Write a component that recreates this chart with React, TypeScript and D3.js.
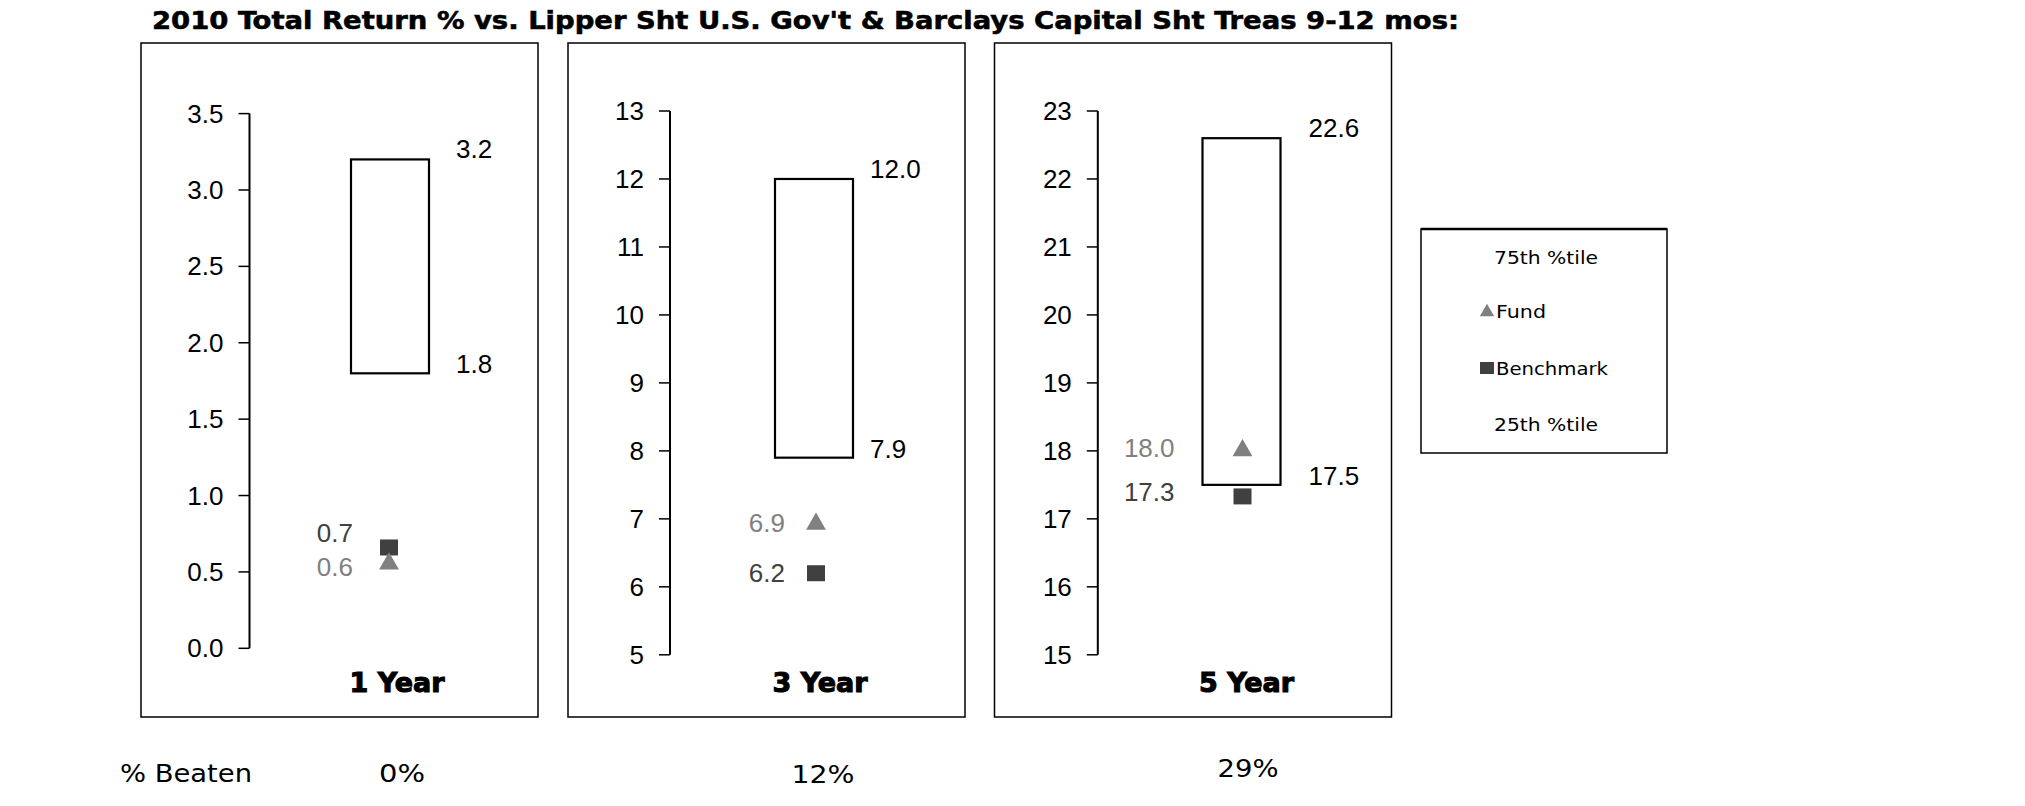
import React from "react";
import * as d3 from "d3";

// ---------- data ----------
const periods = ["1 Year", "3 Year", "5 Year"];
const pct75 = [3.2, 12.0, 22.6];
const pct25 = [1.8, 7.9, 17.5];
const fundValues = [0.56, 6.94, 18.02];
const benchmarkValues = [0.66, 6.2, 17.33];
const axisMin = [0, 5, 15];
const axisMax = [3.5, 13, 23];
const ticks1 = [0, 0.5, 1.0, 1.5, 2.0, 2.5, 3.0, 3.5];
const ticks3 = [5, 6, 7, 8, 9, 10, 11, 12, 13];
const ticks5 = [15, 16, 17, 18, 19, 20, 21, 22, 23];
const tickSets = [ticks1, ticks3, ticks5];
const tickFormats = [".1f", "d", "d"];
const pctBeaten = ["0%", "12%", "29%"];
const legendItems = ["75th %tile", "Fund", "Benchmark", "25th %tile"];
const title =
  "2010 Total Return % vs. Lipper Sht U.S. Gov't & Barclays Capital Sht Treas 9-12 mos:";

// ---------- layout ----------
const W = 2025;
const H = 806;
const frameX = [141, 568, 994.5];
const frameW = 397;
const frameTop = 43;
const frameBottom = 717;
const axisDx = [108.5, 102, 103.3];
const plotTop = [113.6, 111, 111];
const plotBottom = [648.3, 654.8, 654.8];
const boxDx = [210, 207, 208];
const boxW = 78;
const markerDx = 248;
const valLabelGap = [27, 17, 28];
const markerLabelDx = [-36, -31, -68];
const benchLabelDy = [-14, 0, -4];
const fundLabelDy = [4, 0, -2];
const periodDx = [256, 252, 252];

const FUND_COLOR = "#808080";
const BENCH_COLOR = "#404040";
const ARIAL = "'Liberation Sans', Arial, sans-serif";
const VERDANA = "'DejaVu Sans', Verdana, sans-serif";
const TAHOMA = "'DejaVu Sans Condensed', 'DejaVu Sans', Tahoma, sans-serif";

const triPath = d3.symbol(d3.symbolTriangle, 170)() as string;

function Panel({ i }: { i: number }) {
  const x0 = frameX[i];
  const y = d3
    .scaleLinear()
    .domain([axisMin[i], axisMax[i]])
    .range([plotBottom[i], plotTop[i]]);
  const fmt = d3.format(tickFormats[i]);
  const f1 = d3.format(".1f");
  const ax = x0 + axisDx[i];
  const bx = x0 + boxDx[i];
  const mx = x0 + markerDx;
  return (
    <g>
      <rect
        x={x0}
        y={frameTop}
        width={frameW}
        height={frameBottom - frameTop}
        fill="white"
        stroke="#000"
        strokeWidth={1.5}
      />
      {/* axis */}
      <line x1={ax} x2={ax} y1={y(axisMin[i])} y2={y(axisMax[i])} stroke="#000" strokeWidth={2} />
      {tickSets[i].map((t) => (
        <g key={t}>
          <line x1={ax - 11} x2={ax} y1={y(t)} y2={y(t)} stroke="#000" strokeWidth={1.5} />
          <text
            x={ax - 26}
            y={y(t)}
            textAnchor="end"
            dominantBaseline="central"
            fontFamily={ARIAL}
            fontSize={26}
            fill="#000"
          >
            {fmt(t)}
          </text>
        </g>
      ))}
      {/* percentile box */}
      <rect
        x={bx}
        y={y(pct75[i])}
        width={boxW}
        height={y(pct25[i]) - y(pct75[i])}
        fill="white"
        stroke="#000"
        strokeWidth={2.2}
      />
      <text
        x={bx + boxW + valLabelGap[i]}
        y={y(pct75[i]) - 10}
        dominantBaseline="central"
        fontFamily={ARIAL}
        fontSize={26}
        fill="#000"
      >
        {f1(pct75[i])}
      </text>
      <text
        x={bx + boxW + valLabelGap[i]}
        y={y(pct25[i]) - 9}
        dominantBaseline="central"
        fontFamily={ARIAL}
        fontSize={26}
        fill="#000"
      >
        {f1(pct25[i])}
      </text>
      {/* markers */}
      <rect
        x={mx - 9}
        y={y(benchmarkValues[i]) - 8}
        width={18}
        height={16}
        fill={BENCH_COLOR}
      />
      <path d={triPath} transform={`translate(${mx},${y(fundValues[i]) + 1})`} fill={FUND_COLOR} />
      <text
        x={mx + markerLabelDx[i]}
        y={y(benchmarkValues[i]) + benchLabelDy[i]}
        textAnchor="end"
        dominantBaseline="central"
        fontFamily={ARIAL}
        fontSize={26}
        fill={BENCH_COLOR}
      >
        {f1(benchmarkValues[i])}
      </text>
      <text
        x={mx + markerLabelDx[i]}
        y={y(fundValues[i]) + fundLabelDy[i]}
        textAnchor="end"
        dominantBaseline="central"
        fontFamily={ARIAL}
        fontSize={26}
        fill={FUND_COLOR}
      >
        {f1(fundValues[i])}
      </text>
      {/* period label */}
      <text
        x={x0 + periodDx[i]}
        y={682}
        textAnchor="middle"
        dominantBaseline="central"
        fontFamily={VERDANA}
        fontWeight="bold"
        fontSize={27}
        stroke="#000"
        strokeWidth={1.1}
        textLength={95}
        lengthAdjust="spacingAndGlyphs"
        fill="#000"
      >
        {periods[i]}
      </text>
    </g>
  );
}

export default function App() {
  const legX = 1421;
  const legY = 229;
  const legW = 246;
  const legH = 224;
  const legRowY = [257, 311, 368, 424];
  const legFont = 18;
  return (
    <svg width={W} height={H} style={{ position: "absolute", left: 0, top: 0, background: "#fff" }}>
      <rect x={0} y={0} width={W} height={H} fill="#fff" />
      <text
        x={152}
        y={29}
        fontFamily={TAHOMA}
        fontWeight="bold"
        fontSize={24}
        stroke="#000"
        strokeWidth={0.5}
        textLength={1307}
        lengthAdjust="spacingAndGlyphs"
        fill="#000"
      >
        {title}
      </text>
      {periods.map((_, i) => (
        <Panel key={i} i={i} />
      ))}
      {/* legend */}
      <rect x={legX} y={legY} width={legW} height={legH} fill="white" stroke="#000" strokeWidth={1.5} />
      <line x1={legX} x2={legX + legW} y1={legY} y2={legY} stroke="#000" strokeWidth={2.5} />
      <text x={1546} y={legRowY[0]} textAnchor="middle" dominantBaseline="central" fontFamily={VERDANA} fontSize={legFont} textLength={104} lengthAdjust="spacingAndGlyphs" fill="#000">
        {legendItems[0]}
      </text>
      <path d={d3.symbol(d3.symbolTriangle, 90)() as string} transform={`translate(1487,${legRowY[1] + 1})`} fill={FUND_COLOR} />
      <text x={1496} y={legRowY[1]} dominantBaseline="central" fontFamily={VERDANA} fontSize={legFont} textLength={50} lengthAdjust="spacingAndGlyphs" fill="#000">
        {legendItems[1]}
      </text>
      <rect x={1480} y={legRowY[2] - 6} width={14} height={12} fill={BENCH_COLOR} />
      <text x={1496} y={legRowY[2]} dominantBaseline="central" fontFamily={VERDANA} fontSize={legFont} textLength={112} lengthAdjust="spacingAndGlyphs" fill="#000">
        {legendItems[2]}
      </text>
      <text x={1546} y={legRowY[3]} textAnchor="middle" dominantBaseline="central" fontFamily={VERDANA} fontSize={legFont} textLength={104} lengthAdjust="spacingAndGlyphs" fill="#000">
        {legendItems[3]}
      </text>
      {/* % beaten row */}
      <text x={120} y={773} dominantBaseline="central" fontFamily={TAHOMA} fontSize={25} textLength={132} lengthAdjust="spacingAndGlyphs" fill="#000">
        % Beaten
      </text>
      {pctBeaten.map((p, i) => (
        <text
          key={p}
          x={[402, 823, 1248][i]}
          y={[773, 774, 768][i]}
          textAnchor="middle"
          dominantBaseline="central"
          fontFamily={TAHOMA}
          fontSize={25}
          textLength={[46, 63, 61][i]}
          lengthAdjust="spacingAndGlyphs"
          fill="#000"
        >
          {p}
        </text>
      ))}
    </svg>
  );
}
